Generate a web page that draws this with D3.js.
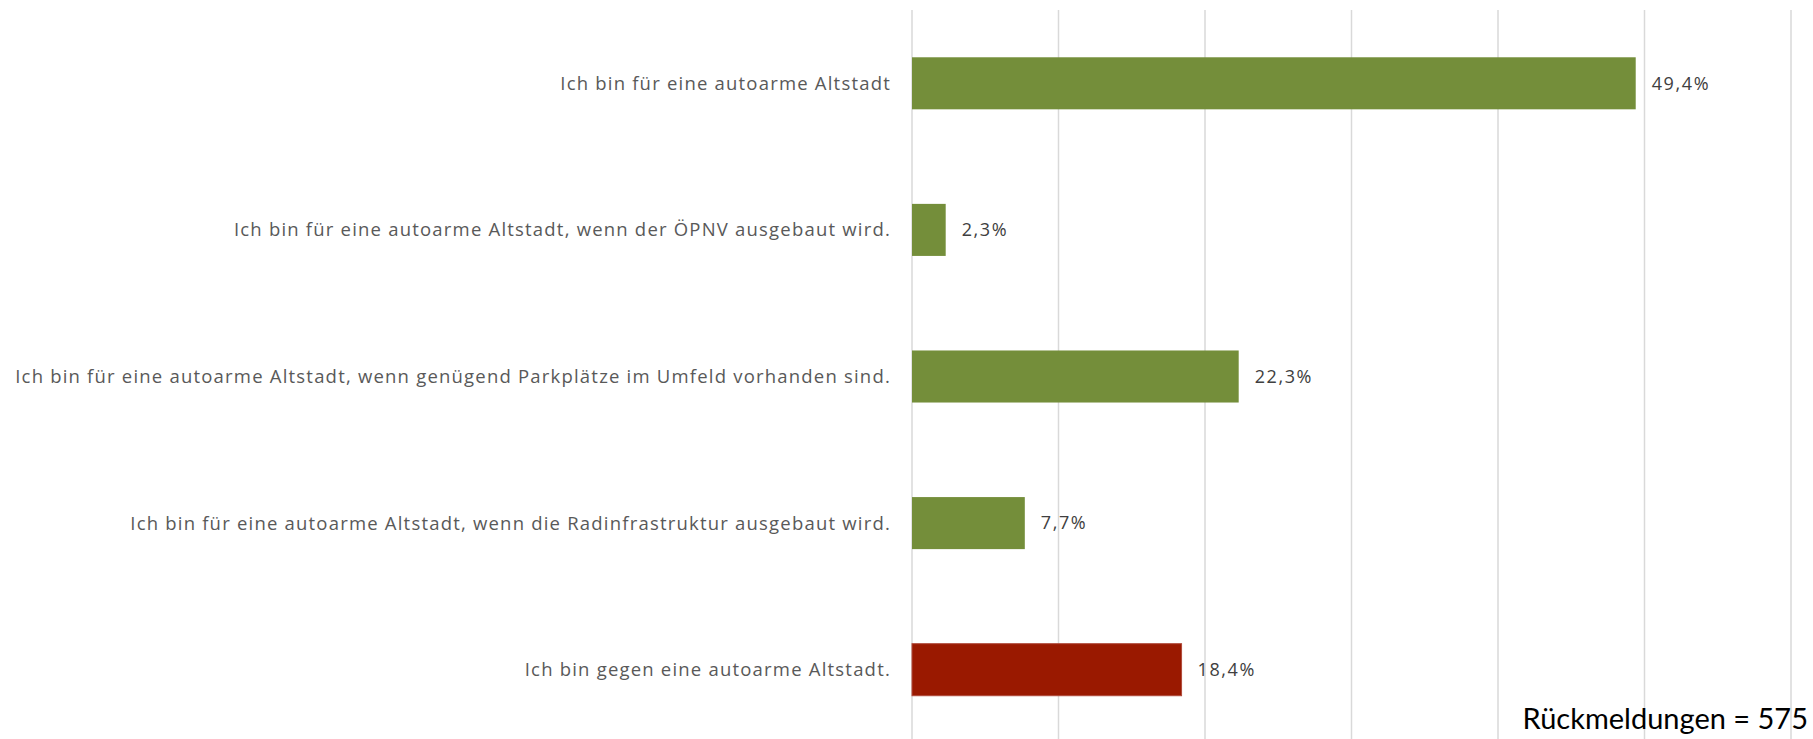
<!DOCTYPE html>
<html>
<head>
<meta charset="utf-8">
<script src="https://cdn.jsdelivr.net/npm/d3@7"></script>
<style>
  body { margin: 0; background: #fff; }
  svg text { font-family: "Open Sans", Lato, sans-serif; }
</style>
</head>
<body>
<svg id="chart" width="1813" height="739"></svg>
<script>
// answers, top to bottom
var categories = [
  "Ich bin für eine autoarme Altstadt",
  "Ich bin für eine autoarme Altstadt, wenn der ÖPNV ausgebaut wird.",
  "Ich bin für eine autoarme Altstadt, wenn genügend Parkplätze im Umfeld vorhanden sind.",
  "Ich bin für eine autoarme Altstadt, wenn die Radinfrastruktur ausgebaut wird.",
  "Ich bin gegen eine autoarme Altstadt."
];
var shares = [49.4, 2.3, 22.3, 7.7, 18.4];
var against = [false, false, false, false, true];
var gridTicks = [0, 10, 20, 30, 40, 50, 60];
var totalLabel = "Rückmeldungen = 575";

var svg = d3.select("#chart");
var margin = {top: 10, right: 22, bottom: -4, left: 912};
var width = 1813 - margin.left - margin.right,
    height = 739 - margin.top - margin.bottom;

var x = d3.scaleLinear().domain([0, 60]).range([0, width]);
var y = d3.scaleBand().domain(d3.range(categories.length)).range([0, height]).paddingInner(0.645).paddingOuter(0.3225);

var g = svg.append("g").attr("transform", "translate(" + margin.left + "," + margin.top + ")");

// vertical grid lines
g.selectAll(".grid")
  .data(gridTicks)
  .enter().append("line")
  .attr("x1", function(d) { return x(d); })
  .attr("x2", function(d) { return x(d); })
  .attr("y1", 0)
  .attr("y2", height)
  .style("stroke", "#d9d9d9")
  .style("stroke-width", 1.5);

g.selectAll(".bar")
  .data(shares)
  .enter().append("rect")
  .attr("x", x(0))
  .attr("y", function(d, i) { return y(i); })
  .attr("width", function(d) { return x(d) - x(0); })
  .attr("height", y.bandwidth())
  .style("fill", function(d, i) { return against[i] ? "#9a1900" : "#748e3a"; })
  .style("stroke", function(d, i) { return against[i] ? "#b04a3a" : "none"; })
  .style("stroke-width", 1);

// value labels
g.selectAll(".val")
  .data(shares)
  .enter().append("text")
  .attr("x", function(d) { return x(d) + 16; })
  .attr("y", function(d, i) { return y(i) + y.bandwidth() / 2; })
  .attr("dy", "0.35em")
  .style("font-size", "18px")
  .style("letter-spacing", "1.6px")
  .style("fill", "#404040")
  .text(function(d) { return d3.format(".1f")(d).replace(".", ",") + "%"; });

// category labels (source pdf has wide spacing)
g.selectAll(".cat")
  .data(categories)
  .enter().append("text")
  .attr("x", -21)
  .attr("y", function(d, i) { return y(i) + y.bandwidth() / 2; })
  .attr("dy", "0.35em")
  .attr("text-anchor", "end")
  .style("font-size", "18.5px")
  .style("letter-spacing", "1.2px")
  .style("fill", "#595959")
  .text(function(d) { return d; });

svg.append("text")
  .attr("x", 1808)
  .attr("y", 729)
  .attr("text-anchor", "end")
  .style("font-family", "Lato, sans-serif")
  .style("font-size", "29px")
  .style("fill", "#000")
  .text(totalLabel);
</script>
</body>
</html>
